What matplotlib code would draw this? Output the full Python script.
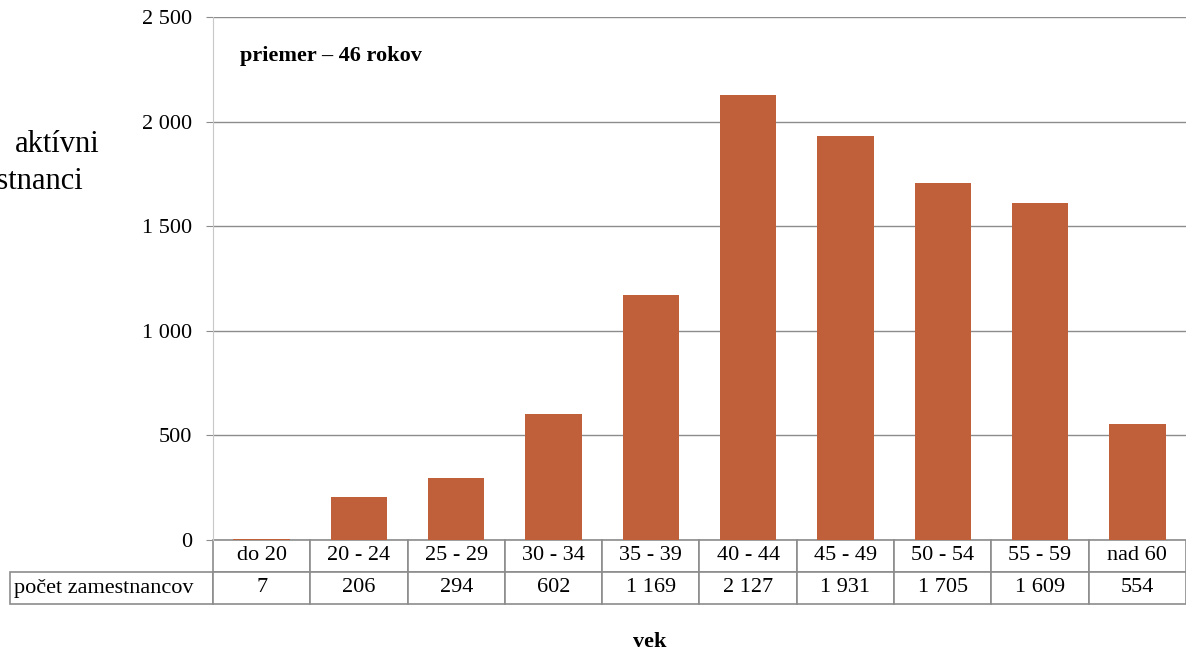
import matplotlib.pyplot as plt

# vekove kategorie a pocty zamestnancov
kategorie = ["do 20", "20 - 24", "25 - 29", "30 - 34", "35 - 39",
             "40 - 44", "45 - 49", "50 - 54", "55 - 59", "nad 60"]
pocty = [7, 206, 294, 602, 1169, 2127, 1931, 1705, 1609, 554]
y_ticks = [0, 500, 1000, 1500, 2000, 2500]


def fmt(v):
    return f"{v:,}".replace(",", " ")


def main():
    plt.rcParams["font.family"] = ["Liberation Serif", "DejaVu Serif"]
    plt.rcParams["font.size"] = 16

    W, H = 1186, 654
    fig = plt.figure(figsize=(W / 100, H / 100), dpi=100)

    # plot area in pixels
    left, right, top, bottom = 213, 1186, 17, 540
    ax = fig.add_axes([left / W, 1 - bottom / H, (right - left) / W, (bottom - top) / H])

    x = range(len(kategorie))
    ax.bar(x, pocty, width=0.58, color="#C0603A", zorder=3)

    ax.set_xlim(-0.5, len(kategorie) - 0.5)
    ax.set_ylim(0, 2500)
    ax.set_yticks(y_ticks)
    ax.set_yticklabels([fmt(v) for v in y_ticks])
    ax.set_xticks([])
    ax.grid(axis="y", color="#8c8c8c", linewidth=1, zorder=0)
    ax.tick_params(axis="y", length=5, color="#8c8c8c", pad=10)

    for s in ["top", "right", "bottom"]:
        ax.spines[s].set_visible(False)
    ax.spines["left"].set_color("#c8c8c8")
    ax.spines["left"].set_linestyle((0, (1, 1)))

    # data table under the chart
    tab_left = 10
    col_w = (right - left) / len(kategorie)
    row_w = left - tab_left
    total_w = right - tab_left
    widths = [row_w / total_w] + [col_w / total_w] * len(kategorie)
    tbl = ax.table(
        cellText=[["počet zamestnancov"] + [fmt(v) for v in pocty]],
        colLabels=[""] + kategorie,
        colWidths=widths,
        cellLoc="center",
        bbox=[-(row_w) / (right - left), -64 / (bottom - top),
              total_w / (right - left), 64 / (bottom - top)],
    )
    tbl.auto_set_font_size(False)
    for (r, c), cell in tbl.get_celld().items():
        cell.set_edgecolor("#8c8c8c")
        cell.set_linewidth(1.2)
        cell.get_text().set_fontsize(16)
        if r == 0 and c == 0:
            cell.set_visible(False)
        if c == 0 and r == 1:
            cell.get_text().set_ha("left")
            cell.PAD = 0.02

    ax.text(0.028, 0.925, "priemer – 46 rokov", transform=ax.transAxes,
            fontsize=16, fontweight="bold", va="center", ha="left")

    fig.text(650 / W, 1 - 642 / H, "vek", fontsize=16, fontweight="bold",
             ha="center", va="center")

    # axis title on the left, cut by the picture edge as in the source
    fig.text(100 / W, 1 - 145 / H, "aktívni", fontsize=22, ha="right", va="center")
    fig.text(83 / W, 1 - 181 / H, "zamestnanci", fontsize=22, ha="right", va="center")

    fig.savefig("out.png", dpi=100)


if __name__ == "__main__":
    main()
